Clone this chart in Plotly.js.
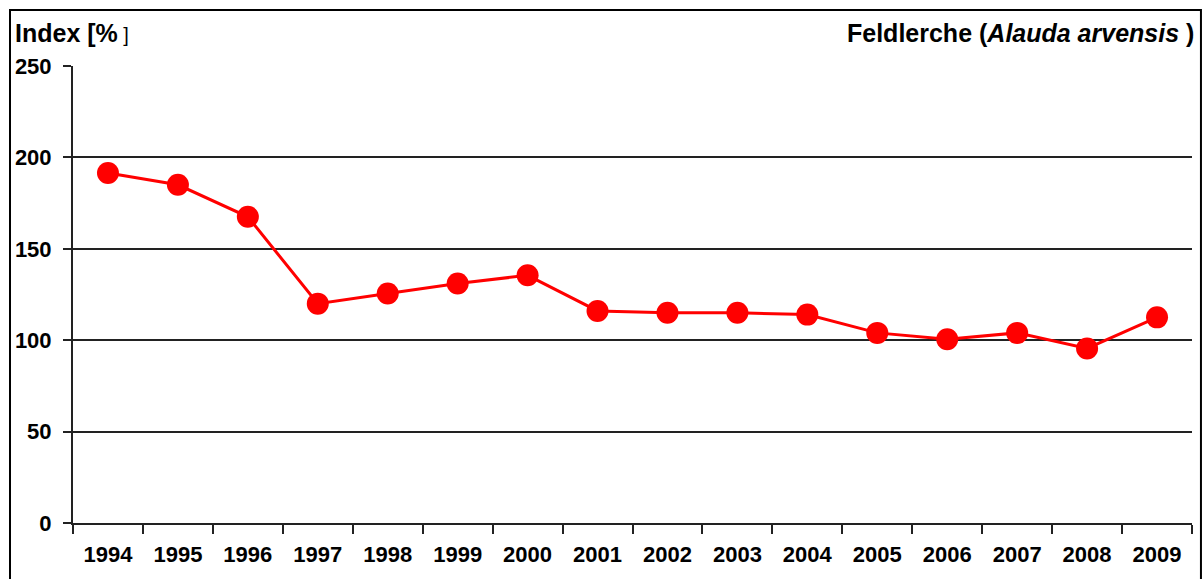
<!DOCTYPE html>
<html>
<head>
<meta charset="utf-8">
<script src="https://cdn.plot.ly/plotly-3.0.1.min.js"></script>
<style>html,body{margin:0;padding:0;background:#fff;}#chart{width:1204px;height:579px;}</style>
</head>
<body>
<div id="chart"></div>
<script>
const years = ["1994","1995","1996","1997","1998","1999","2000","2001","2002","2003","2004","2005","2006","2007","2008","2009"];
const indexValues = [191.5, 185, 167.5, 120, 125.5, 131, 135.5, 116, 115, 115, 114, 104, 100.5, 104, 95.5, 112.5];
const yTicks = [0, 50, 100, 150, 200, 250];

const FONT = "Liberation Sans, Arial, Helvetica, sans-serif";

const trace = {
  x: years,
  y: indexValues,
  type: "scatter",
  mode: "lines+markers",
  line: {color: "#ff0000", width: 3},
  marker: {color: "#ff0000", size: 22},
  hoverinfo: "x+y"
};

const layout = {
  width: 1204,
  height: 579,
  margin: {l: 73, r: 12, t: 66, b: 56},
  paper_bgcolor: "#ffffff",
  plot_bgcolor: "#ffffff",
  showlegend: false,
  font: {family: FONT, color: "#000", size: 22, weight: 700},
  xaxis: {
    type: "category",
    range: [-0.5, 15.5],
    tickson: "boundaries",
    ticks: "outside",
    ticklen: 9,
    tickwidth: 2,
    tickcolor: "#222",
    showgrid: false,
    showline: true,
    linecolor: "#222",
    linewidth: 2,
    zeroline: false,
    tickfont: {family: FONT, size: 22, weight: 700, color: "#000"},
    ticklabelstandoff: 11,
    fixedrange: true
  },
  yaxis: {
    range: [0, 250],
    tickvals: yTicks,
    ticktext: yTicks.map(String),
    ticks: "outside",
    ticklen: 8,
    tickwidth: 2,
    tickcolor: "#222",
    showgrid: true,
    gridcolor: "#222",
    gridwidth: 2,
    showline: true,
    linecolor: "#222",
    linewidth: 2,
    zeroline: false,
    tickfont: {family: FONT, size: 22, weight: 700, color: "#000"},
    ticklabelstandoff: 7,
    fixedrange: true
  },
  shapes: [
    {type: "rect", xref: "paper", yref: "paper",
     x0: -0.0563, x1: 1.0080, y0: -0.3, y1: 1.1225,
     line: {color: "#000", width: 2}, fillcolor: "rgba(0,0,0,0)", layer: "below"}
  ],
  annotations: [
    {xref: "paper", yref: "paper", x: -0.054, y: 1.072, xanchor: "left", yanchor: "middle",
     showarrow: false, text: "Index [%<span style='font-weight:normal;font-size:20px'> ]</span>",
     font: {family: FONT, size: 25, weight: 700, color: "#000"}},
    {xref: "paper", yref: "paper", x: 1.004, y: 1.072, xanchor: "right", yanchor: "middle",
     showarrow: false, text: "Feldlerche (<i>Alauda arvensis</i> )",
     font: {family: FONT, size: 25, weight: 700, color: "#000"}}
  ]
};

Plotly.newPlot("chart", [trace], layout, {displayModeBar: false, staticPlot: true});
</script>
</body>
</html>
